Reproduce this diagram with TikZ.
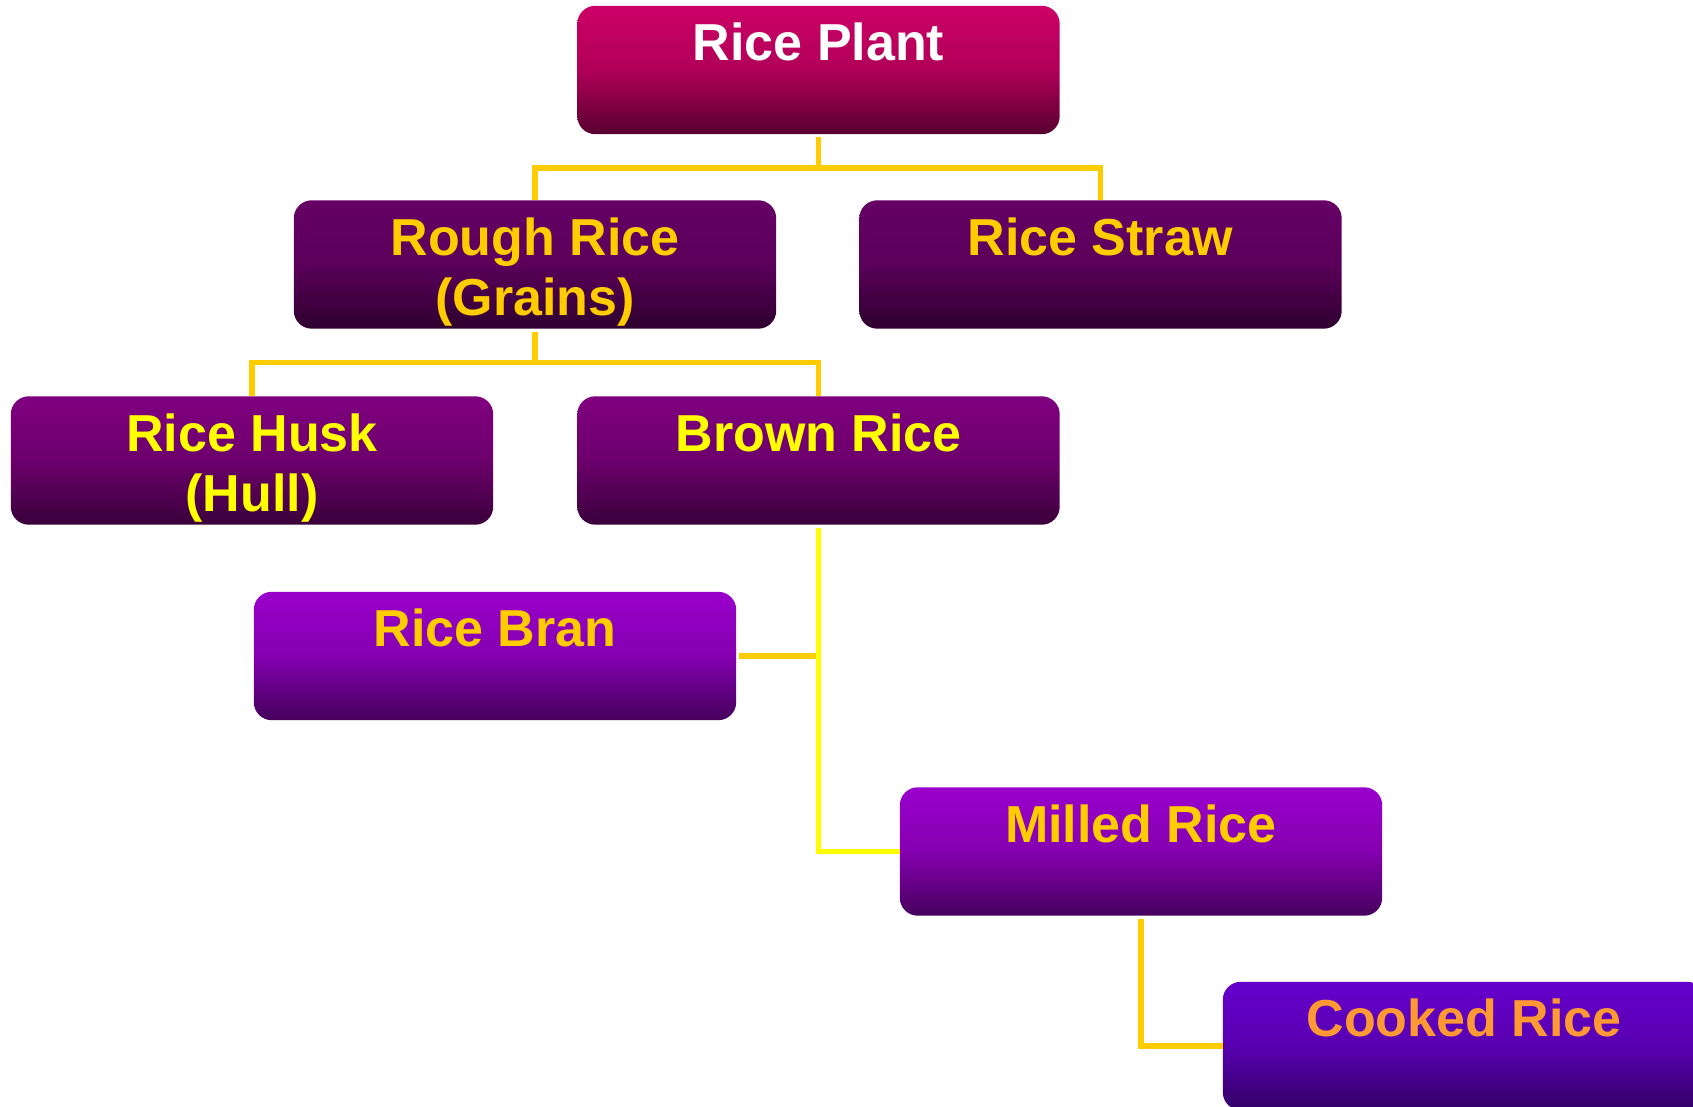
\documentclass[tikz,border=0pt]{standalone}
\usepackage{fontspec}
\setmainfont{Liberation Sans}
\usepackage{tikz}
\definecolor{plantpink}{RGB}{204,0,102}
\definecolor{plantmid}{RGB}{176,0,88}
\definecolor{plantdark}{RGB}{88,0,48}
\definecolor{roughtop}{RGB}{102,0,102}
\definecolor{roughmid}{RGB}{90,0,90}
\definecolor{roughdark}{RGB}{46,0,46}
\definecolor{husktop}{RGB}{128,0,128}
\definecolor{huskmid}{RGB}{108,0,108}
\definecolor{huskdark}{RGB}{58,0,58}
\definecolor{brantop}{RGB}{153,0,204}
\definecolor{branmid}{RGB}{133,0,176}
\definecolor{brandark}{RGB}{69,0,92}
\definecolor{cooktop}{RGB}{102,0,204}
\definecolor{cookmid}{RGB}{88,0,176}
\definecolor{cookdark}{RGB}{51,0,102}
\definecolor{linkgold}{RGB}{255,204,0}
\definecolor{linkyellow}{RGB}{255,255,0}
\definecolor{cookorange}{RGB}{255,153,51}

\begin{document}
\begin{tikzpicture}[x=1pt, y=1pt,
    ricebox/.style={minimum width=482pt, minimum height=128pt, inner sep=0pt},
    boxlabel/.style={anchor=north, yshift=-17pt, inner sep=0pt, align=center, font=\bfseries\fontsize{52}{60}\selectfont},
    link/.style={line width=5.5pt, draw=linkgold}]
        \useasboundingbox (0,0) rectangle (1693,1106);
        \clip (0,0) rectangle (1693,1106);
        % boxes (names only), shaded below
        \node[ricebox] (plant) at (818.5,1036) {};
        \node[ricebox] (rough) at (535,841.5) {};
        \node[ricebox] (straw) at (1100.5,841.5) {};
        \node[ricebox] (husk) at (252,645.5) {};
        \node[ricebox] (brown) at (818.5,645.5) {};
        \node[ricebox] (bran) at (495,450) {};
        \node[ricebox] (milled) at (1141,254.5) {};
        \node[ricebox] (cooked) at (1464,60) {};
        \foreach \b/\t/\m/\d/\c/\txt in {plant/plantpink/plantmid/plantdark/white/{Rice Plant},
                rough/roughtop/roughmid/roughdark/linkgold/{Rough Rice\\(Grains)},
                straw/roughtop/roughmid/roughdark/linkgold/{Rice Straw},
                husk/husktop/huskmid/huskdark/linkyellow/{Rice Husk\\(Hull)},
                brown/husktop/huskmid/huskdark/linkyellow/{Brown Rice},
                bran/brantop/branmid/brandark/linkgold/{Rice Bran},
                milled/brantop/branmid/brandark/linkgold/{Milled Rice},
                cooked/cooktop/cookmid/cookdark/cookorange/{Cooked Rice}} {
            \shade[rounded corners=18pt, top color=\t, bottom color=\d, middle color=\m]
                (\b.south west) rectangle (\b.north east);
            \node[boxlabel, text=\c] (\b-txt) at (\b.north) {\txt};
        }
        % connectors
        \draw[link, shorten <=3pt] (plant.south) -- ++(0,-34) -| (rough.north);
        \draw[link] (plant.south) ++(0,-34) -| (straw.north);
        \draw[link, shorten <=3pt] (rough.south) -- ++(0,-34) -| (husk.north);
        \draw[link] (rough.south) ++(0,-34) -| (brown.north);
        \draw[link, shorten <=3pt] (bran.east) -- (bran.east -| brown.south);
        \draw[link, draw=linkyellow, shorten <=3pt] (brown.south) |- (milled.west);
        \draw[link, shorten <=3pt] (milled.south) |- (cooked.west);
    \end{tikzpicture}
\end{document}
